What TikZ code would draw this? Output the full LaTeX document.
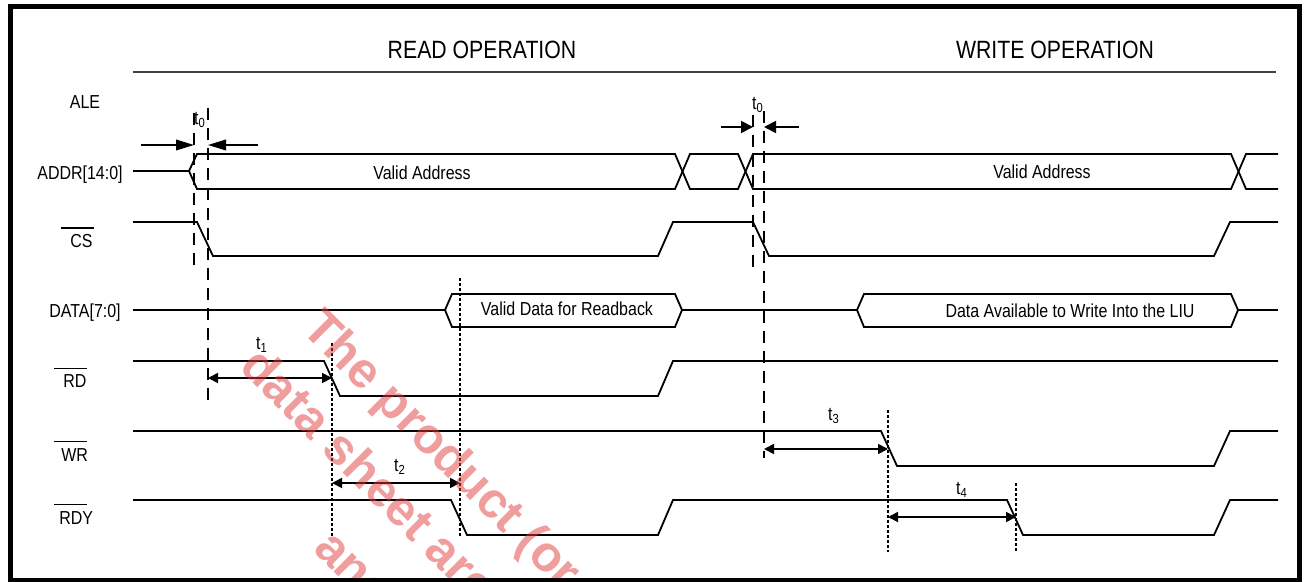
\documentclass[tikz,border=0pt]{standalone}
\usepackage{fontspec}
\setmainfont{Liberation Sans}[FakeStretch=0.85]
\newfontfamily\wmfont{Liberation Sans}
\usepackage{tikz}
\usetikzlibrary{arrows.meta}
\definecolor{wmred}  {HTML}{E23B3B}
\definecolor{hdrgray}{HTML}{404040}

% active-low signal name: bar over the name
\newcommand{\barsig}[2][4.5pt]{\vbox{\hrule width 16.5pt height 0.7pt\vskip 3pt\hbox{\hspace{#1}#2}}}

\begin{document}
\begin{tikzpicture}[x=0.5pt, y=-0.5pt,
  sig/.style={line width=0.9pt},
  lbl/.style={font=\fontsize{9.4}{10}\selectfont, inner sep=0pt, anchor=base},
  tlbl/.style={font=\fontsize{9.4}{10}\selectfont, inner sep=0pt},
  ttl/.style={font=\fontsize{12.5}{13}\selectfont, inner sep=0pt},
  tmark/.style={line width=0.75pt, dash pattern=on 6pt off 4pt},
  tref/.style={line width=0.6pt, dash pattern=on 1.5pt off 1pt},
  dim/.style={line width=0.9pt, {Triangle[length=5pt,width=5pt]}-{Triangle[length=5pt,width=5pt]}},
  wmark/.style={font=\wmfont\bfseries\fontsize{25}{25}\selectfont, text=wmred, text opacity=0.5,
                inner sep=0pt, anchor=base west, rotate=-45}]
  \useasboundingbox (0,0) rectangle (1306,582);

  % titles
  \node[ttl] (rdop) at (482,50) {READ OPERATION};
  \node[ttl] (wrop) at (1055,50) {WRITE OPERATION};
  \draw[hdrgray, line width=1pt] (133,72) -- (1276,72);

  % signal names
  \node[lbl] (ale)  at (85,109) {ALE};
  \node[lbl] (addr) at (80,180) {ADDR[14:0]};
  \node[lbl] (data) at (85,318) {DATA[7:0]};
  \node[lbl, anchor=base west] (cs)  at (61,248) {\barsig{CS}};
  \node[lbl, anchor=base west] (rd)  at (54,388) {\barsig{RD}};
  \node[lbl, anchor=base west] (wr)  at (54,461) {\barsig[3.5pt]{WR}};
  \node[lbl, anchor=base west] (rdy) at (54,524) {\barsig[2.5pt]{RDY}};

  % ADDR bus
  \draw[sig] (133,171) -- (189,171) -- (197,154) -- (675,154) -- (690,189) -- (738,189)
             -- (753,154) -- (1231,154) -- (1246,189) -- (1278,189);
  \draw[sig] (189,171) -- (197,189) -- (675,189) -- (690,154) -- (738,154)
             -- (753,189) -- (1231,189) -- (1246,154) -- (1278,154);
  \node[lbl] (va1) at (422,180) {Valid Address};
  \node[lbl] (va2) at (1042,179) {Valid Address};

  % CS
  \draw[sig] (133,222) -- (197,222) -- (213,256) -- (658,256) -- (673,222) -- (753,222)
             -- (769,256) -- (1214,256) -- (1230,222) -- (1278,222);

  % DATA bus
  \draw[sig] (133,310) -- (445,310);
  \draw[sig] (445,310) -- (452,294) -- (675,294) -- (682,310) -- (675,327) -- (452,327) -- cycle;
  \draw[sig] (682,310) -- (857,310);
  \draw[sig] (857,310) -- (864,294) -- (1231,294) -- (1238,310) -- (1231,327) -- (864,327) -- cycle;
  \draw[sig] (1238,310) -- (1278,310);
  \node[lbl] (vd) at (567,316) {Valid Data for Readback};
  \node[lbl] (wd) at (1070,318) {Data Available to Write Into the LIU};

  % RD, WR, RDY
  \draw[sig] (133,361) -- (324,361) -- (340,396) -- (658,396) -- (673,361) -- (1278,361);
  \draw[sig] (133,431) -- (881,431) -- (897,466) -- (1214,466) -- (1230,431) -- (1278,431);
  \draw[sig] (133,500) -- (451,500) -- (467,535) -- (658,535) -- (673,500) -- (1007,500)
             -- (1023,535) -- (1214,535) -- (1230,500) -- (1278,500);

  % timing marks
  \foreach \n/\x/\ya/\yb in {ma/194/113/267, mb/208/108/402, mc/753/115/267, md/764/111/458}
    {\coordinate (\n) at (\x,\ya); \draw[tmark] (\n) -- (\x,\yb);}
  \foreach \n/\x/\ya/\yb in {m1/332/343/537, m2/460/278/537, m3/888/410/552, m4/1016/483/553}
    {\coordinate (\n) at (\x,\ya); \draw[tref] (\n) -- (\x,\yb);}

  % t0 (setup of address before CS)
  \draw[line width=0.9pt, -{Triangle[length=9pt,width=5.3pt]}] (141,145) -- (ma |- 0,145);
  \draw[line width=0.9pt, -{Triangle[length=9pt,width=5.3pt]}] (258,145) -- (mb |- 0,145);
  \node[tlbl] (tz1) at (200,120) {t\textsubscript{0}};
  \draw[line width=0.9pt, -{Triangle[length=6pt,width=6pt]}] (721,127) -- (mc |- 0,127);
  \draw[line width=0.9pt, -{Triangle[length=6pt,width=6pt]}] (799,127) -- (md |- 0,127);
  \node[tlbl] (tz2) at (758,105) {t\textsubscript{0}};

  % t1 .. t4
  \draw[dim] (mb |- 0,378) -- (m1 |- 0,378);
  \node[tlbl] (t1) at (262,345) {t\textsubscript{1}};
  \draw[dim] (m1 |- 0,483) -- (m2 |- 0,483);
  \node[tlbl] (t2) at (400,467) {t\textsubscript{2}};
  \draw[dim] (md |- 0,449) -- (m3 |- 0,449);
  \node[tlbl] (t3) at (834,416) {t\textsubscript{3}};
  \draw[dim] (m3 |- 0,517) -- (m4 |- 0,517);
  \node[tlbl] (t4) at (962,490) {t\textsubscript{4}};

  % watermark
  \begin{scope}
    \clip (0,0) rectangle (1306,582);
    \foreach \n/\x/\y/\txt in {wa/300/330/The product (or, wb/238/368/data sheet are, wc/312/550/and}
      {\node[wmark] (\n) at (\x,\y) {\txt};}
    \draw[line width=2.7pt] (10.5,6.5) -- (1299.5,6.5) -- (1299.5,581) -- (10.5,581) -- cycle;
  \end{scope}
\end{tikzpicture}
\end{document}
